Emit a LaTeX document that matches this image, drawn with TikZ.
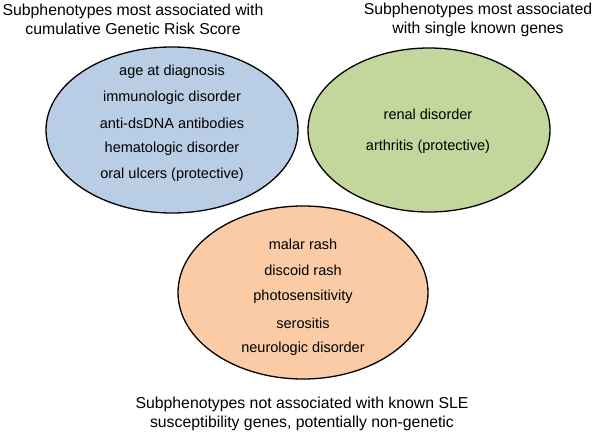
\documentclass[tikz,border=0pt]{standalone}
\usepackage{fontspec}
\setmainfont{Liberation Sans}
\definecolor{blobblue}{HTML}{B9CDE5}
\definecolor{blobgreen}{HTML}{C3D69B}
\definecolor{bloborange}{HTML}{FACBA5}
\tikzset{
  blob/.style={draw=black, line width=1.3pt, ellipse, inner sep=0pt},
  title/.style={align=center, font=\fontsize{15.8}{19}\selectfont, inner sep=0pt},
  item/.style={font=\fontsize{14.5}{17}\selectfont, inner sep=0pt},
}
\usetikzlibrary{shapes.geometric}
\begin{document}
\begin{tikzpicture}[x=1pt,y=-1pt]
\useasboundingbox (0,0) rectangle (596,436);
% ellipses
\draw[blob, fill=blobblue] (172,130) ellipse [x radius=126, y radius=83];
\draw[blob, fill=blobgreen] (429,130) ellipse [x radius=121, y radius=82];
\draw[blob, fill=bloborange] (303,292.5) ellipse [x radius=125, y radius=86.5];
% blue items
\node[item] (b1) at (172,72) {age at diagnosis};
\node[item] (b2) at (172,98) {immunologic disorder};
\node[item] (b3) at (172,123) {anti-dsDNA antibodies};
\node[item] (b4) at (172,149) {hematologic disorder};
\node[item] (b5) at (172,175) {oral ulcers (protective)};
% green items
\node[item] (g1) at (428,114) {renal disorder};
\node[item] (g2) at (428,147) {arthritis (protective)};
% orange items
\node[item] (o1) at (303,244) {malar rash};
\node[item] (o2) at (303,270) {discoid rash};
\node[item] (o3) at (303,297) {photosensitivity};
\node[item] (o4) at (303,323) {serositis};
\node[item] (o5) at (303,349) {neurologic disorder};
% titles
\node[title] (t1) at (133,19.5) {Subphenotypes most associated with\\cumulative Genetic Risk Score};
\node[title] (t2) at (478,19.5) {Subphenotypes most associated\\with single known genes};
\node[title] (t3) at (302,413.5) {Subphenotypes not associated with known SLE\\susceptibility genes, potentially non-genetic};
\end{tikzpicture}
\end{document}
